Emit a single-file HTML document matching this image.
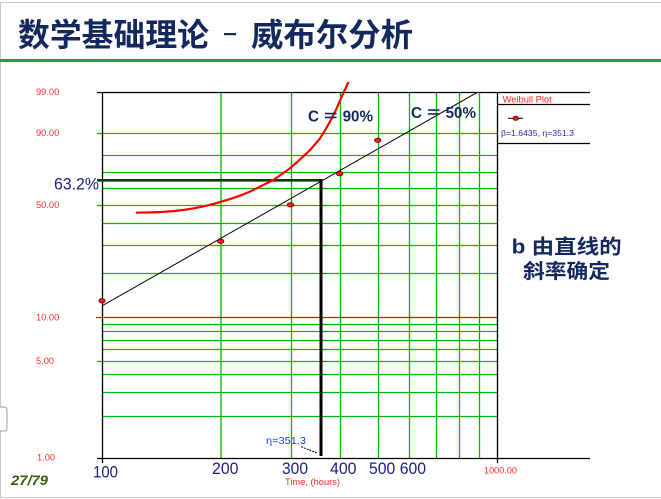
<!DOCTYPE html>
<html><head><meta charset="utf-8"><style>
html,body{margin:0;padding:0;background:#fff;}
svg{display:block;}
</style></head><body>
<svg width="661" height="499" viewBox="0 0 661 499" xmlns="http://www.w3.org/2000/svg">
<rect width="661" height="499" fill="#fff"/>
<!-- frame -->
<line x1="0" y1="2.5" x2="661" y2="2.5" stroke="#c8c8c8" stroke-width="1"/>
<line x1="0.5" y1="2" x2="0.5" y2="498" stroke="#c8c8c8" stroke-width="1"/>
<line x1="0" y1="497.5" x2="661" y2="497.5" stroke="#c8c8c8" stroke-width="1"/>
<rect x="-4" y="407" width="11" height="24" rx="3" fill="#fff" stroke="#9a9a9a" stroke-width="1"/>
<!-- title -->
<g font-family="'Liberation Sans','Noto Sans CJK SC',sans-serif" font-weight="bold" fill="#13285e" font-size="32">
<text x="18" y="46" textLength="191" lengthAdjust="spacingAndGlyphs">数学基础理论</text>
<text x="251" y="46" textLength="162" lengthAdjust="spacingAndGlyphs">威布尔分析</text>
</g>
<rect x="224" y="33" width="12" height="2.2" fill="#13285e"/>
<rect x="0" y="59" width="661" height="3" fill="#17a34a"/>

<!-- grid vertical green -->
<g stroke="#00b400" stroke-width="1.3">
<line x1="221" y1="92" x2="221" y2="458"/>
<line x1="291.5" y1="92" x2="291.5" y2="458"/>
<line x1="340.5" y1="92" x2="340.5" y2="458"/>
<line x1="378.5" y1="92" x2="378.5" y2="458"/>
<line x1="409.5" y1="92" x2="409.5" y2="458"/>
<line x1="436.5" y1="92" x2="436.5" y2="458"/>
<line x1="459.5" y1="92" x2="459.5" y2="458"/>
<line x1="479.5" y1="92" x2="479.5" y2="458"/>
</g>
<!-- grid horizontal green -->
<g stroke="#00b400" stroke-width="1.3">
<line x1="97" y1="133.5" x2="497" y2="133.5"/>
<line x1="102" y1="155.5" x2="497" y2="155.5"/>
<line x1="102" y1="172.5" x2="497" y2="172.5"/>
<line x1="102" y1="188.5" x2="497" y2="188.5"/>
<line x1="97" y1="205.5" x2="497" y2="205.5"/>
<line x1="102" y1="223.5" x2="497" y2="223.5"/>
<line x1="102" y1="245.5" x2="497" y2="245.5"/>
<line x1="102" y1="273.5" x2="497" y2="273.5"/>
<line x1="102" y1="324.5" x2="497" y2="324.5"/>
<line x1="102" y1="331.5" x2="497" y2="331.5"/>
<line x1="102" y1="340.5" x2="497" y2="340.5"/>
<line x1="102" y1="349.5" x2="497" y2="349.5"/>
<line x1="97" y1="361.5" x2="497" y2="361.5"/>
<line x1="102" y1="374.5" x2="497" y2="374.5"/>
<line x1="102" y1="392.5" x2="497" y2="392.5"/>
<line x1="102" y1="416.5" x2="497" y2="416.5"/>
</g>
<line x1="96" y1="317.5" x2="497" y2="317.5" stroke="#ff0000" stroke-width="1.3"/>

<!-- axes -->
<g stroke="#000" stroke-width="1.3">
<line x1="97" y1="92.5" x2="590" y2="92.5"/>
<line x1="97" y1="458.5" x2="590" y2="458.5"/>
<line x1="102.5" y1="92" x2="102.5" y2="463"/>
<line x1="497.5" y1="92" x2="497.5" y2="463"/>
<line x1="497" y1="104.5" x2="590" y2="104.5"/>
<line x1="497" y1="143.5" x2="590" y2="143.5"/>
</g>

<!-- 63.2 lines -->
<line x1="97" y1="180.3" x2="322" y2="180.3" stroke="#0b3d0b" stroke-width="2.6"/>
<line x1="321" y1="179" x2="321" y2="456" stroke="#000" stroke-width="3"/>
<line x1="301" y1="446.7" x2="317.7" y2="453.3" stroke="#000" stroke-width="1" stroke-dasharray="2,1"/>

<!-- fit line -->
<line x1="102.3" y1="305.7" x2="476.7" y2="92.7" stroke="#000" stroke-width="1"/>

<!-- red curve -->
<path d="M136,212.7 C150,212.6 163,212.1 175,211 C190,209.3 200,207.5 210,204.8 C222,201.8 230,199.2 240,195.7 C248,192.5 252,190.8 256.7,188.3 C263,185 268,182.7 273.3,180 C280,175.5 285,172 290,168.3 C296,163 303,157 310,150 C314,145.5 317,142 320,138.3 C324,132 327,127 330,121.7 C333,115.5 335,112 336.7,108.3 C339,103 341,98 343.3,93.3 C345.5,88.5 347,85 348.5,82" fill="none" stroke="#ff0000" stroke-width="2.2"/>

<!-- data points -->
<g fill="#ff1a1a" stroke="#5a0000" stroke-width="0.8">
<ellipse cx="102" cy="300.7" rx="3.2" ry="2.2"/>
<ellipse cx="220.7" cy="241.3" rx="3.2" ry="2.2"/>
<ellipse cx="290.5" cy="204.8" rx="3.2" ry="2.2"/>
<ellipse cx="339.7" cy="173.7" rx="3.2" ry="2.2"/>
<ellipse cx="377.7" cy="140.3" rx="3.2" ry="2.2"/>
</g>

<!-- legend -->
<line x1="508" y1="118.3" x2="523" y2="118.3" stroke="#000" stroke-width="1"/>
<ellipse cx="515.7" cy="118.3" rx="2.7" ry="2.1" fill="#ff1a1a" stroke="#5a0000" stroke-width="0.8"/>
<g font-family="'Liberation Sans',sans-serif">
<text x="502.7" y="102.5" font-size="9" fill="#ff2020" textLength="49" lengthAdjust="spacingAndGlyphs">Weibull Plot</text>
<text x="501" y="136" font-size="8" fill="#2a2aa0" textLength="73" lengthAdjust="spacingAndGlyphs">β=1.6435, η=351.3</text>

<!-- y labels -->
<g font-size="9.3" fill="#ff2a2a">
<text x="36" y="95">99.00</text>
<text x="36" y="136">90.00</text>
<text x="36" y="208">50.00</text>
<text x="36" y="320.7">10.00</text>
<text x="36" y="364">5.00</text>
<text x="37" y="460.7">1.00</text>
<text x="484" y="473.3" textLength="33" lengthAdjust="spacingAndGlyphs">1000.00</text>
<text x="285" y="485" textLength="55" lengthAdjust="spacingAndGlyphs">Time, (hours)</text>
</g>

<text x="266" y="444" font-size="10.5" fill="#2040c8" textLength="40" lengthAdjust="spacingAndGlyphs">η=351.3</text>

<!-- x labels -->
<g font-size="17" fill="#1c2080">
<text x="93" y="477.3" textLength="25" lengthAdjust="spacingAndGlyphs">100</text>
<text x="212" y="473.8" textLength="26.5" lengthAdjust="spacingAndGlyphs">200</text>
<text x="282" y="473.8" textLength="26" lengthAdjust="spacingAndGlyphs">300</text>
<text x="330" y="473.8" textLength="26.5" lengthAdjust="spacingAndGlyphs">400</text>
<text x="369" y="473.8" textLength="57" lengthAdjust="spacingAndGlyphs">500 600</text>
</g>
<text x="54" y="189.3" font-size="17" fill="#1c2080" textLength="45" lengthAdjust="spacingAndGlyphs">63.2%</text>

<!-- C labels -->
<g font-size="16" font-weight="bold" fill="#13285e">
<text x="308" y="121.5" textLength="65" lengthAdjust="spacingAndGlyphs">C ＝ 90%</text>
<text x="411" y="118" textLength="65" lengthAdjust="spacingAndGlyphs">C ＝ 50%</text>
</g>

<text x="11" y="485" font-size="14" font-weight="bold" font-style="italic" fill="#3a5f0b" textLength="37" lengthAdjust="spacingAndGlyphs">27/79</text>
</g>

<g font-family="'Liberation Sans','Noto Sans CJK SC',sans-serif" font-weight="bold" fill="#13285e" font-size="20">
<text x="511.7" y="253.5" textLength="110" lengthAdjust="spacingAndGlyphs">b 由直线的</text>
<text x="523" y="278" textLength="87" lengthAdjust="spacingAndGlyphs">斜率确定</text>
</g>
</svg>
</body></html>
